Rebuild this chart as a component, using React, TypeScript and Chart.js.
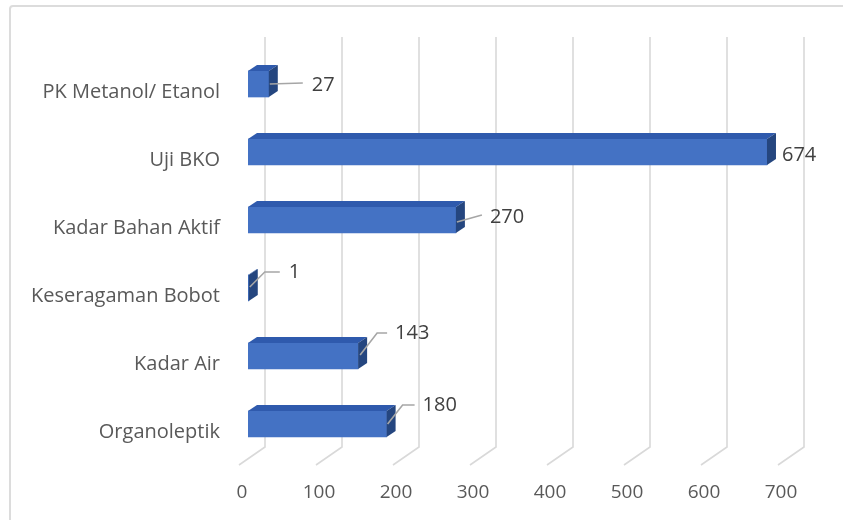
import React, { useEffect, useRef } from "react";
import { Chart, registerables } from "chart.js";

Chart.register(...registerables);

// ---- data ----
const categories = [
  "PK Metanol/ Etanol",
  "Uji BKO",
  "Kadar Bahan Aktif",
  "Keseragaman Bobot",
  "Kadar Air",
  "Organoleptik",
];
const values = [27, 674, 270, 1, 143, 180];
const axisMin = 0;
const axisMax = 700;
const axisStep = 100;

// ---- styling (pixel placement of data labels relative to bar end / centre) ----
const labelPlacement: { dx: number; dy: number; leader: number[][] | null }[] = [
  { dx: 43, dy: 1, leader: [[1, 0], [34, -1]] },
  { dx: 15, dy: 3, leader: null },
  { dx: 34, dy: -3, leader: [[1, 2], [26, -5]] },
  { dx: 40, dy: -16, leader: [[1, -1], [16, -16], [31, -16]] },
  { dx: 37, dy: -23, leader: [[2, -1], [19, -23], [29, -23]] },
  { dx: 36, dy: -19, leader: [[1, 0], [16, -19], [28, -19]] },
];

const DEPTH_X = 9;
const DEPTH_Y = -6;
const FRONT = "#4472C4";
const TOP = "#2F5AAD";
const SIDE = "#25467F";
const GRID = "#D9D9D9";
const TEXT = "#595959";
const FONT = "'Open Sans', 'Noto Sans', sans-serif";

const depthPlugin = {
  id: "depth3d",
  beforeDatasetsDraw(chart: any) {
    const { ctx, chartArea, scales } = chart;
    const xs = scales.x;
    ctx.save();
    ctx.strokeStyle = GRID;
    ctx.lineWidth = 1.6;
    for (let v = axisMin; v <= axisMax; v += axisStep) {
      const px = xs.getPixelForValue(v);
      ctx.beginPath();
      ctx.moveTo(px + 17, chartArea.top - 13);
      ctx.lineTo(px + 17, chartArea.bottom - 11);
      ctx.lineTo(px - 9, chartArea.bottom + 7);
      ctx.stroke();
    }
    ctx.restore();
  },
  afterDatasetsDraw(chart: any) {
    const { ctx } = chart;
    const meta = chart.getDatasetMeta(0);
    ctx.save();
    meta.data.forEach((bar: any, i: number) => {
      const { x, y, base, height } = bar.getProps(["x", "y", "base", "height"], true);
      const top = y - height / 2;
      const bot = y + height / 2;
      const x0 = Math.min(base, x);
      const x1 = Math.max(base, x);
      // top face
      ctx.fillStyle = TOP;
      ctx.beginPath();
      ctx.moveTo(x0, top);
      ctx.lineTo(x0 + DEPTH_X, top + DEPTH_Y);
      ctx.lineTo(x1 + DEPTH_X, top + DEPTH_Y);
      ctx.lineTo(x1, top);
      ctx.closePath();
      ctx.fill();
      // side face
      ctx.fillStyle = SIDE;
      ctx.beginPath();
      ctx.moveTo(x1, top);
      ctx.lineTo(x1 + DEPTH_X, top + DEPTH_Y);
      ctx.lineTo(x1 + DEPTH_X, bot + DEPTH_Y);
      ctx.lineTo(x1, bot);
      ctx.closePath();
      ctx.fill();

      const p = labelPlacement[i];
      if (p.leader) {
        ctx.strokeStyle = "#A6A6A6";
        ctx.lineWidth = 1.6;
        ctx.beginPath();
        p.leader.forEach((pt, k) => {
          if (k === 0) ctx.moveTo(x1 + pt[0], y + pt[1]);
          else ctx.lineTo(x1 + pt[0], y + pt[1]);
        });
        ctx.stroke();
      }
      ctx.fillStyle = "#404040";
      ctx.font = `20px ${FONT}`;
      ctx.textAlign = "left";
      ctx.textBaseline = "middle";
      ctx.fillText(String(values[i]), x1 + p.dx, y + p.dy);
    });
    ctx.restore();
  },
};

export default function App() {
  const ref = useRef<HTMLCanvasElement | null>(null);
  useEffect(() => {
    if (!ref.current) return;
    const chart = new Chart(ref.current, {
      type: "bar",
      data: {
        labels: categories,
        datasets: [
          {
            data: values,
            backgroundColor: FRONT,
            borderWidth: 0,
            barThickness: 26,
          },
        ],
      },
      options: {
        indexAxis: "y",
        responsive: false,
        animation: false,
        layout: { padding: { top: 50, right: 56, left: 0, bottom: 0 } },
        plugins: { legend: { display: false }, tooltip: { enabled: false } },
        scales: {
          x: {
            min: axisMin,
            max: axisMax,
            ticks: {
              stepSize: axisStep,
              labelOffset: -6,
              padding: 23,
              color: TEXT,
              font: { family: FONT, size: 19 },
            },
            grid: { display: false, drawTicks: false },
            border: { display: false },
            afterFit: (s: any) => {
              s.height = 62;
            },
          },
          y: {
            ticks: {
              padding: 28,
              labelOffset: 8,
              color: TEXT,
              font: { family: FONT, size: 20 },
            },
            grid: { display: false, drawTicks: false },
            border: { display: false },
            afterFit: (s: any) => {
              s.width = 248;
            },
          },
        },
      } as any,
      plugins: [depthPlugin],
    });
    return () => chart.destroy();
  }, []);

  return (
    <div
      style={{
        position: "fixed",
        left: 0,
        top: 0,
        width: 843,
        height: 520,
        background: "#fff",
        overflow: "hidden",
      }}
    >
      <div
        style={{
          position: "absolute",
          left: 9,
          top: 5,
          width: 900,
          height: 600,
          border: "2px solid #DCDCDC",
          borderRadius: 4,
          boxSizing: "border-box",
        }}
      />
      <canvas
        ref={ref}
        width={843}
        height={520}
        style={{ position: "absolute", left: 0, top: 0, display: "block" }}
      />
    </div>
  );
}
